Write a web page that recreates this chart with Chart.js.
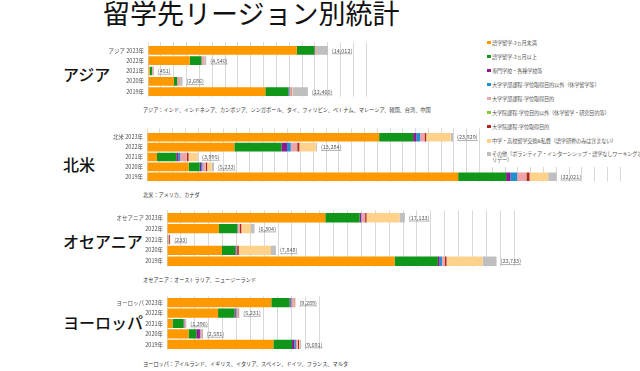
<!DOCTYPE html>
<html>
<head>
<meta charset="utf-8">
<script src="https://cdn.jsdelivr.net/npm/chart.js@4"></script>
<style>
body { margin: 0; width: 640px; height: 371px; background: #fff; position: relative; overflow: hidden; font-family: "Noto Sans CJK JP", sans-serif; }
canvas { position: absolute; left: 0; }
.txt { position: absolute; white-space: nowrap; line-height: 1; }
#title { left: 103px; top: -1px; font-size: 27px; color: #111; }
.region { left: 63px; font-size: 16px; color: #111; font-weight: 500; }
.note { left: 143px; font-size: 5.2px; color: #333; }
#legend { position: absolute; left: 482px; top: 35px; width: 158px; height: 132px; background: #fff; z-index: 2; }
.item { position: absolute; left: 5px; font-size: 5.2px; color: #555; white-space: nowrap; line-height: 6.4px; letter-spacing: -0.15px; }
.item i { position: absolute; left: 0; top: 1.3px; width: 3.5px; height: 3.5px; }
.item span { margin-left: 5px; display: inline-block; }
</style>
</head>
<body>
<div id="title" class="txt">留学先リージョン別統計</div>
<div id="legend"></div>

<script>
const years = ['2023年', '2022年', '2021年', '2020年', '2019年'];
const seriesNames = [
  '語学留学-3ヵ月未満',
  '語学留学-3ヵ月以上',
  '専門学校・各種学校等',
  '大学学部課程-学位取得目的以外（休学留学等）',
  '大学学部課程-学位取得目的',
  '大学院課程-学位目的以外（休学留学・研究目的等）',
  '大学院課程-学位取得目的',
  '中学・高校留学交換&私費（語学研修のみは含まない）',
  'その他（ボランティア・インターンシップ・語学なしワーキングホ\nリデー）'
];
const seriesColors = ['#FF9900', '#109618', '#8E1A8E', '#1E90D0', '#F0A3A8', '#8CC63F', '#B22222', '#FFD28C', '#BFBFBF'];

// one row per series, one column per year (2023 .. 2019)
const asiaValues = [
  [11600, 3250, 130, 2020, 9140],
  [1370, 900, 180, 240, 1790],
  [20, 20, 0, 10, 40],
  [30, 20, 0, 10, 60],
  [60, 130, 60, 150, 120],
  [10, 10, 0, 6, 10],
  [20, 30, 30, 20, 40],
  [30, 20, 0, 30, 60],
  [872, 160, 51, 200, 1200]
];
const asiaTotals = [14012, 4540, 451, 2686, 12460];

const naValues = [
  [18150, 6830, 780, 3260, 24330],
  [2660, 3680, 1510, 860, 3750],
  [250, 440, 160, 110, 340],
  [290, 290, 150, 110, 520],
  [330, 490, 500, 250, 700],
  [20, 20, 15, 13, 30],
  [130, 160, 130, 100, 240],
  [1920, 1280, 700, 350, 1460],
  [179, 94, 50, 180, 651]
];
const naTotals = [23929, 13284, 3995, 5233, 32021];

const oceValues = [
  [11400, 3740, 40, 3960, 16390],
  [2470, 1320, 20, 960, 3120],
  [100, 20, 0, 60, 120],
  [30, 20, 0, 20, 170],
  [260, 120, 60, 40, 190],
  [10, 10, 0, 10, 20],
  [100, 120, 80, 120, 120],
  [2380, 670, 20, 2320, 2590],
  [383, 284, 13, 358, 1013]
];
const oceTotals = [17133, 6304, 233, 7848, 23733];

const eurValues = [
  [7540, 3690, 400, 1560, 7690],
  [1320, 1200, 800, 560, 1350],
  [80, 80, 40, 260, 170],
  [60, 50, 20, 30, 110],
  [150, 130, 80, 110, 140],
  [10, 10, 5, 5, 10],
  [40, 30, 20, 30, 70],
  [30, 10, 5, 6, 60],
  [59, 31, 26, 20, 91]
];
const eurTotals = [9289, 5231, 1396, 2581, 9691];

const axisMax = [18000, 38000, 26000, 12000];
const regionNames = ['アジア', '北米', 'オセアニア', 'ヨーロッパ'];
const regionNotes = [
  'アジア：インド、インドネシア、カンボジア、シンガポール、タイ、フィリピン、ベトナム、マレーシア、韓国、台湾、中国',
  '北米：アメリカ、カナダ',
  'オセアニア：オーストラリア、ニュージーランド',
  'ヨーロッパ：アイルランド、イギリス、イタリア、スペイン、ドイツ、フランス、マルタ'
];

// layout of each panel (pixels)
const panels = [
  { values: asiaValues, totals: asiaTotals, left: 148, right: 379, top: 41, bottom: 104, tick: 3, bar: 0.85, labelY: 66, noteY: 107 },
  { values: naValues, totals: naTotals, left: 147, right: 633, top: 129, bottom: 189, tick: 4, bar: 0.88, labelY: 156, noteY: 192 },
  { values: oceValues, totals: oceTotals, left: 167, right: 528, top: 207, bottom: 274, tick: 2, bar: 0.86, labelY: 233, noteY: 277 },
  { values: eurValues, totals: eurTotals, left: 167, right: 333, top: 291, bottom: 357, tick: 1, bar: 0.88, labelY: 314, noteY: 361 }
];

const FONT = '"Noto Sans CJK JP", sans-serif';

panels.forEach((p, k) => {
  const r = document.createElement('div');
  r.className = 'txt region';
  r.style.top = p.labelY + 'px';
  r.textContent = regionNames[k];
  document.body.appendChild(r);

  const n = document.createElement('div');
  n.className = 'txt note';
  n.style.top = p.noteY + 'px';
  n.textContent = regionNotes[k];
  document.body.appendChild(n);

  const cv = document.createElement('canvas');
  const ctop = p.top - p.tick;
  cv.width = p.right;
  cv.height = p.bottom - ctop;
  cv.style.top = ctop + 'px';
  cv.style.width = p.right + 'px';
  cv.style.height = (p.bottom - ctop) + 'px';
  document.body.appendChild(cv);

  const labels = [regionNames[k] + ' ' + years[0]].concat(years.slice(1));

  const totalLabels = {
    id: 'totalLabels',
    afterDatasetsDraw(chart) {
      const { ctx, scales: { x, y } } = chart;
      ctx.save();
      ctx.font = '5.5px ' + FONT;
      ctx.fillStyle = '#595959';
      ctx.strokeStyle = '#7f7f7f';
      ctx.lineWidth = 0.6;
      ctx.textBaseline = 'middle';
      p.totals.forEach((t, i) => {
        const px = x.getPixelForValue(t) + 4;
        const py = y.getPixelForValue(i);
        const s = '(' + t.toLocaleString('en-US') + ')';
        ctx.fillText(s, px, py);
        const w = ctx.measureText(s).width;
        ctx.beginPath();
        ctx.moveTo(px, py + 3.3);
        ctx.lineTo(px + w, py + 3.3);
        ctx.stroke();
      });
      ctx.restore();
    }
  };

  new Chart(cv, {
    type: 'bar',
    data: {
      labels: labels,
      datasets: p.values.map((v, j) => ({
        label: seriesNames[j],
        data: v,
        backgroundColor: seriesColors[j],
        borderWidth: 0,
        barPercentage: p.bar,
        categoryPercentage: 1
      }))
    },
    options: {
      indexAxis: 'y',
      responsive: false,
      animation: false,
      devicePixelRatio: 1,
      events: [],
      layout: { padding: 0 },
      plugins: { legend: { display: false }, tooltip: { enabled: false } },
      scales: {
        x: {
          type: 'linear',
          position: 'top',
          stacked: true,
          min: 0,
          max: axisMax[k],
          ticks: { display: false, stepSize: 1000 },
          grid: { color: '#d9d9d9', lineWidth: 1, drawTicks: true, tickLength: p.tick },
          border: { display: false },
          afterFit: s => { s.height = p.tick; }
        },
        y: {
          stacked: true,
          grid: { display: false, drawTicks: false },
          border: { display: false },
          ticks: { font: { family: FONT, size: 5.5 }, color: '#505050', padding: 4, autoSkip: false },
          afterFit: s => { s.width = p.left; }
        }
      }
    },
    plugins: [totalLabels]
  });
});

// legend
const legend = document.getElementById('legend');
const legendTops = [4.5, 18.5, 32.5, 46.5, 60.5, 74.5, 88.5, 103, 116];
seriesNames.forEach((name, j) => {
  const d = document.createElement('div');
  d.className = 'item';
  d.style.top = legendTops[j] + 'px';
  const m = document.createElement('i');
  m.style.background = seriesColors[j];
  const s = document.createElement('span');
  s.innerHTML = name.replace('\n', '<br>');
  d.appendChild(m);
  d.appendChild(s);
  legend.appendChild(d);
});
</script>
</body>
</html>
